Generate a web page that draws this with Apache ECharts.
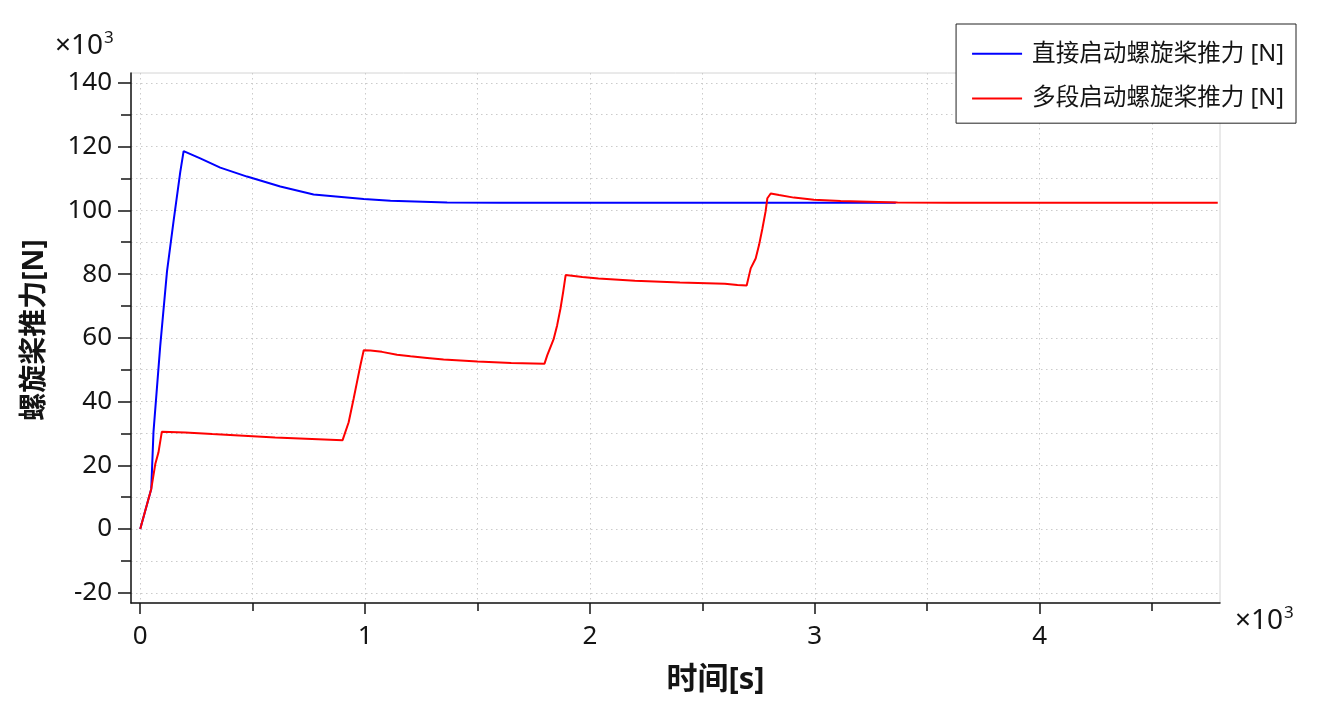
<!DOCTYPE html>
<html>
<head>
<meta charset="utf-8">
<script src="https://cdn.jsdelivr.net/npm/echarts@6/dist/echarts.min.js"></script>
<style>
html,body{margin:0;padding:0;background:#fff;}
#c{width:1326px;height:707px;}
</style>
</head>
<body>
<div id="c"></div>
<script>
// ---- data (time in s, thrust in N) ----
const seriesNames = ['直接启动螺旋桨推力 [N]', '多段启动螺旋桨推力 [N]'];
const xTitle = '时间[s]';
const yTitle = '螺旋桨推力[N]';

const directTime  = [0, 49, 59, 74, 89, 119, 148, 178, 193, 267, 356, 475, 623, 771, 994, 1113, 1365, 1600, 2000, 2500, 3000, 3360];
const directForce = [0, 12600, 30500, 44000, 57500, 80800, 96500, 112000, 118600, 116300, 113400, 110600, 107500, 105000, 103600, 103000, 102500, 102400, 102400, 102400, 102400, 102400];

const multiTime  = [0, 49, 67, 81, 96, 200, 320, 460, 600, 900, 905, 927, 949, 964, 979, 994, 1000, 1024, 1075, 1142, 1202, 1276, 1349, 1500, 1650, 1798, 1810, 1839, 1854, 1869, 1881, 1892, 1899, 1966, 2038, 2200, 2400, 2600, 2656, 2697, 2715, 2737, 2752, 2767, 2781, 2789, 2804, 2841, 2907, 2996, 3115, 3368, 3600, 4000, 4500, 4792];
const multiForce = [0, 12600, 20400, 24000, 30500, 30300, 29800, 29300, 28700, 27900, 28300, 33500, 40900, 46100, 51300, 56100, 56500, 56000, 55600, 54700, 54200, 53700, 53200, 52600, 52100, 51900, 54500, 59700, 63900, 69200, 74400, 79700, 80200, 79100, 78600, 77900, 77400, 77000, 76600, 76400, 81800, 84900, 89100, 94300, 99600, 103800, 105300, 104800, 104000, 103300, 102900, 102500, 102400, 102400, 102400, 102400];

const xMajorTicks = [0, 1000, 2000, 3000, 4000];
const xMinorTicks = [0, 500, 1000, 1500, 2000, 2500, 3000, 3500, 4000, 4500];
const yMajorTicks = [-20000, 0, 20000, 40000, 60000, 80000, 100000, 120000, 140000];
const yMinorTicks = [-20000, -10000, 0, 10000, 20000, 30000, 40000, 50000, 60000, 70000, 80000, 90000, 100000, 110000, 120000, 130000, 140000];

const xRange = [-41, 4802];
const yRange = [-23200, 143100];

// ---- chart ----
const FONT = '"Noto Sans", "Noto Sans CJK SC", sans-serif';
const INK = '#141414';
const pairs = (xs, ys) => xs.map((x, i) => [x, ys[i]]);
const kFmt = v => String(Math.round(v / 1000));

const chart = echarts.init(document.getElementById('c'), null, {renderer: 'canvas'});
chart.setOption({
  animation: false,
  backgroundColor: '#fff',
  textStyle: {fontFamily: FONT},
  grid: {left: 131, right: 106, top: 73, bottom: 104, show: true, borderColor: '#d4d4d4', borderWidth: 1, backgroundColor: 'transparent'},
  legend: {
    orient: 'vertical', right: 30, top: 24,
    padding: [18, 12, 13, 16], itemGap: 21,
    itemWidth: 50, itemHeight: 2, icon: 'rect',
    backgroundColor: '#fff', borderColor: '#222', borderWidth: 1,
    textStyle: {fontSize: 23.6, color: INK, fontFamily: FONT, padding: [0, 0, 0, 5]},
    data: seriesNames
  },
  xAxis: [
    {
      type: 'value', gridIndex: 0, position: 'bottom', min: xRange[0], max: xRange[1],
      axisLine: {show: true, onZero: false, lineStyle: {color: INK, width: 1.5}},
      axisTick: {show: true, length: 11, customValues: xMajorTicks, lineStyle: {color: INK, width: 1.5}},
      axisLabel: {customValues: xMajorTicks, formatter: kFmt, fontSize: 26, color: INK, margin: 21, fontFamily: FONT},
      splitLine: {show: false},
      name: xTitle, nameLocation: 'middle', nameGap: 62,
      nameTextStyle: {fontSize: 31, fontWeight: 'bold', color: INK, fontFamily: FONT, padding: [0, 0, 0, 80]}
    },
    {
      type: 'value', gridIndex: 0, position: 'bottom', min: xRange[0], max: xRange[1],
      axisLine: {show: false, onZero: false},
      axisTick: {show: true, length: 8, customValues: xMinorTicks, lineStyle: {color: INK, width: 1.5}},
      axisLabel: {show: false},
      splitLine: {show: true, lineStyle: {color: '#cbcbcb', width: 1, type: [1.5, 3.5]}}
    }
  ],
  yAxis: [
    {
      type: 'value', gridIndex: 0, position: 'left', min: yRange[0], max: yRange[1],
      axisLine: {show: true, onZero: false, lineStyle: {color: INK, width: 1.5}},
      axisTick: {show: true, length: 13, customValues: yMajorTicks, lineStyle: {color: INK, width: 1.5}},
      axisLabel: {customValues: yMajorTicks, formatter: kFmt, fontSize: 26, color: INK, margin: 19, fontFamily: FONT},
      splitLine: {show: false},
      name: yTitle, nameLocation: 'middle', nameGap: 82,
      nameTextStyle: {fontSize: 28, fontWeight: 'bold', color: INK, fontFamily: FONT, padding: [0, 0, 0, 16]}
    },
    {
      type: 'value', gridIndex: 0, position: 'left', min: yRange[0], max: yRange[1],
      axisLine: {show: false, onZero: false},
      axisTick: {show: true, length: 10, customValues: yMinorTicks, lineStyle: {color: INK, width: 1.5}},
      axisLabel: {show: false},
      splitLine: {show: true, lineStyle: {color: '#cbcbcb', width: 1, type: [1.5, 3.5]}}
    }
  ],
  graphic: [
    {type: 'text', left: 55, top: 32, style: {text: '×10', fontSize: 28, fill: INK, fontFamily: FONT}},
    {type: 'text', left: 104, top: 30, style: {text: '3', fontSize: 17, fill: INK, fontFamily: FONT}},
    {type: 'text', left: 1235, top: 607, style: {text: '×10', fontSize: 28, fill: INK, fontFamily: FONT}},
    {type: 'text', left: 1284, top: 605, style: {text: '3', fontSize: 17, fill: INK, fontFamily: FONT}}
  ],
  series: [
    {
      name: seriesNames[0], type: 'line', xAxisIndex: 0, yAxisIndex: 0,
      data: pairs(directTime, directForce), showSymbol: false, symbol: 'none',
      lineStyle: {color: '#0000ff', width: 2}, itemStyle: {color: '#0000ff'}, z: 3
    },
    {
      name: seriesNames[1], type: 'line', xAxisIndex: 0, yAxisIndex: 0,
      data: pairs(multiTime, multiForce), showSymbol: false, symbol: 'none',
      lineStyle: {color: '#ff0000', width: 2}, itemStyle: {color: '#ff0000'}, z: 4
    }
  ]
});
</script>
</body>
</html>
